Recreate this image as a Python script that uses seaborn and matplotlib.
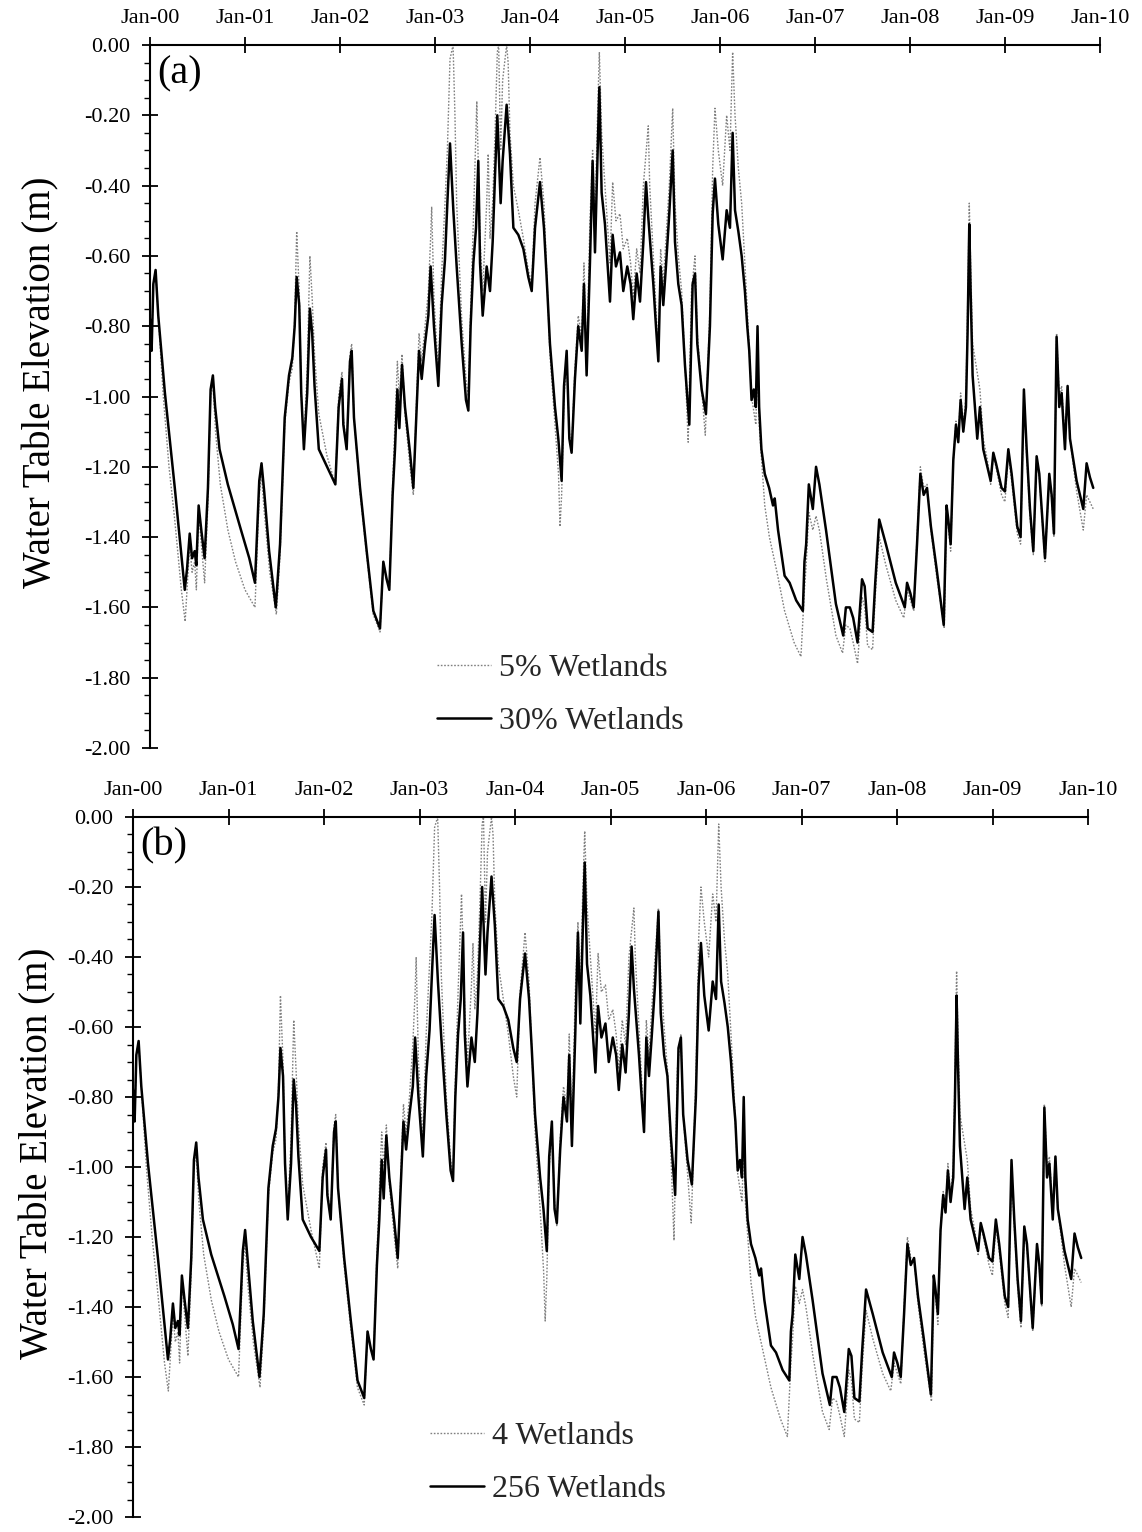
import numpy as np
import pandas as pd
import matplotlib
matplotlib.use("Agg")
import matplotlib.pyplot as plt
import seaborn as sns
from matplotlib.ticker import MultipleLocator

# ---------------- data (decimal years since Jan-2000, water table elevation m) -------------
x_tick_labels = ["Jan-00", "Jan-01", "Jan-02", "Jan-03", "Jan-04", "Jan-05",
                 "Jan-06", "Jan-07", "Jan-08", "Jan-09", "Jan-10"]
y_tick_values = [0.0, -0.2, -0.4, -0.6, -0.8, -1.0, -1.2, -1.4, -1.6, -1.8, -2.0]
y_tick_labels = ["0.00", "-0.20", "-0.40", "-0.60", "-0.80", "-1.00",
                 "-1.20", "-1.40", "-1.60", "-1.80", "-2.00"]

# panel (a) : 30% wetlands (solid)
pts_30pct = [
    (0.000, -0.78), (0.017, -0.87), (0.035, -0.68), (0.059, -0.64), (0.087, -0.77), (0.157, -0.99),
    (0.261, -1.26), (0.366, -1.55), (0.390, -1.49), (0.418, -1.39), (0.443, -1.46), (0.470, -1.44),
    (0.488, -1.48), (0.512, -1.31), (0.540, -1.38), (0.575, -1.46), (0.610, -1.26), (0.638, -0.98),
    (0.662, -0.94), (0.686, -1.03), (0.732, -1.15), (0.819, -1.25), (0.958, -1.38), (1.045, -1.46),
    (1.105, -1.53), (1.150, -1.24), (1.174, -1.19), (1.202, -1.27), (1.254, -1.44), (1.324, -1.60),
    (1.369, -1.42), (1.418, -1.06), (1.463, -0.94), (1.498, -0.89), (1.523, -0.80), (1.544, -0.66),
    (1.571, -0.74), (1.592, -0.99), (1.620, -1.15), (1.655, -0.99), (1.683, -0.75), (1.707, -0.82),
    (1.732, -0.97), (1.777, -1.15), (1.864, -1.20), (1.951, -1.25), (1.986, -1.03), (2.021, -0.95),
    (2.035, -1.08), (2.070, -1.15), (2.105, -0.90), (2.123, -0.87), (2.147, -1.06), (2.211, -1.26),
    (2.281, -1.44), (2.351, -1.61), (2.421, -1.66), (2.456, -1.47), (2.491, -1.52), (2.519, -1.55),
    (2.554, -1.28), (2.579, -1.15), (2.604, -0.98), (2.625, -1.09), (2.653, -0.91), (2.684, -1.03),
    (2.737, -1.16), (2.772, -1.26), (2.807, -1.03), (2.832, -0.87), (2.860, -0.95), (2.895, -0.85),
    (2.930, -0.77), (2.954, -0.63), (2.989, -0.80), (3.035, -0.97), (3.070, -0.74), (3.105, -0.61),
    (3.130, -0.45), (3.158, -0.28), (3.193, -0.47), (3.228, -0.63), (3.281, -0.85), (3.326, -1.01),
    (3.351, -1.04), (3.375, -0.80), (3.404, -0.62), (3.432, -0.52), (3.456, -0.33), (3.474, -0.62),
    (3.502, -0.77), (3.544, -0.63), (3.579, -0.70), (3.607, -0.56), (3.632, -0.37), (3.656, -0.20),
    (3.691, -0.45), (3.712, -0.33), (3.754, -0.17), (3.789, -0.31), (3.825, -0.52), (3.877, -0.54),
    (3.930, -0.58), (3.982, -0.66), (4.018, -0.70), (4.053, -0.52), (4.105, -0.39), (4.147, -0.52),
    (4.175, -0.66), (4.210, -0.85), (4.263, -1.03), (4.298, -1.12), (4.333, -1.24), (4.358, -0.97),
    (4.386, -0.87), (4.414, -1.12), (4.438, -1.16), (4.473, -0.95), (4.508, -0.80), (4.544, -0.87),
    (4.568, -0.68), (4.596, -0.94), (4.631, -0.62), (4.659, -0.33), (4.684, -0.59), (4.709, -0.33),
    (4.730, -0.12), (4.754, -0.42), (4.789, -0.51), (4.842, -0.73), (4.870, -0.54), (4.905, -0.63),
    (4.947, -0.59), (4.982, -0.70), (5.024, -0.63), (5.059, -0.68), (5.087, -0.78), (5.123, -0.65),
    (5.158, -0.73), (5.193, -0.56), (5.221, -0.39), (5.245, -0.49), (5.298, -0.68), (5.326, -0.80),
    (5.351, -0.90), (5.375, -0.63), (5.403, -0.74), (5.431, -0.63), (5.466, -0.48), (5.502, -0.30),
    (5.526, -0.56), (5.561, -0.68), (5.596, -0.74), (5.631, -0.91), (5.677, -1.08), (5.712, -0.68),
    (5.737, -0.65), (5.761, -0.85), (5.807, -0.98), (5.852, -1.05), (5.894, -0.80), (5.923, -0.48),
    (5.947, -0.38), (5.982, -0.51), (6.028, -0.61), (6.070, -0.47), (6.105, -0.52), (6.133, -0.25),
    (6.158, -0.47), (6.193, -0.53), (6.228, -0.60), (6.262, -0.70), (6.287, -0.80), (6.308, -0.87),
    (6.332, -1.01), (6.356, -0.98), (6.377, -1.03), (6.395, -0.80), (6.412, -1.03), (6.436, -1.15),
    (6.471, -1.22), (6.517, -1.26), (6.558, -1.31), (6.576, -1.29), (6.611, -1.38), (6.680, -1.51),
    (6.733, -1.53), (6.802, -1.58), (6.872, -1.61), (6.889, -1.47), (6.907, -1.42), (6.935, -1.25),
    (6.977, -1.32), (7.011, -1.20), (7.046, -1.25), (7.116, -1.38), (7.220, -1.59), (7.297, -1.68),
    (7.325, -1.60), (7.367, -1.60), (7.402, -1.63), (7.448, -1.70), (7.495, -1.52), (7.523, -1.54),
    (7.554, -1.66), (7.606, -1.67), (7.634, -1.53), (7.676, -1.35), (7.746, -1.42), (7.850, -1.53),
    (7.945, -1.60), (7.969, -1.53), (8.004, -1.56), (8.039, -1.60), (8.074, -1.42), (8.109, -1.22),
    (8.144, -1.28), (8.179, -1.26), (8.220, -1.37), (8.280, -1.49), (8.355, -1.65), (8.385, -1.31),
    (8.403, -1.35), (8.428, -1.42), (8.456, -1.18), (8.484, -1.08), (8.508, -1.13), (8.533, -1.01),
    (8.561, -1.10), (8.589, -1.03), (8.606, -0.82), (8.624, -0.51), (8.638, -0.70), (8.659, -0.94),
    (8.684, -1.03), (8.708, -1.12), (8.736, -1.03), (8.771, -1.15), (8.814, -1.20), (8.849, -1.24),
    (8.877, -1.16), (8.905, -1.19), (8.964, -1.26), (8.999, -1.27), (9.035, -1.15), (9.070, -1.22),
    (9.129, -1.37), (9.164, -1.40), (9.199, -0.98), (9.228, -1.15), (9.263, -1.32), (9.298, -1.44),
    (9.333, -1.17), (9.361, -1.22), (9.386, -1.32), (9.421, -1.46), (9.466, -1.22), (9.491, -1.28),
    (9.515, -1.39), (9.543, -0.83), (9.571, -1.03), (9.596, -0.99), (9.631, -1.15), (9.659, -0.97),
    (9.684, -1.12), (9.754, -1.24), (9.824, -1.32), (9.859, -1.19), (9.894, -1.23), (9.929, -1.26),
]

# panel (a) : 5% wetlands (dotted)
pts_5pct = [
    (0.000, -0.78), (0.017, -0.87), (0.035, -0.68), (0.059, -0.64), (0.087, -0.77), (0.140, -1.00),
    (0.200, -1.20), (0.260, -1.35), (0.330, -1.55), (0.370, -1.64), (0.390, -1.55), (0.418, -1.42),
    (0.443, -1.50), (0.470, -1.47), (0.488, -1.55), (0.512, -1.33), (0.540, -1.42), (0.575, -1.53),
    (0.610, -1.30), (0.638, -1.00), (0.662, -0.96), (0.690, -1.10), (0.740, -1.25), (0.820, -1.38),
    (0.900, -1.47), (1.000, -1.55), (1.105, -1.60), (1.150, -1.28), (1.174, -1.22), (1.200, -1.32),
    (1.260, -1.50), (1.330, -1.62), (1.369, -1.45), (1.418, -1.08), (1.463, -0.96), (1.498, -0.92),
    (1.523, -0.78), (1.544, -0.53), (1.571, -0.70), (1.592, -1.00), (1.620, -1.13), (1.655, -0.92),
    (1.683, -0.60), (1.707, -0.72), (1.732, -0.88), (1.777, -1.05), (1.864, -1.17), (1.951, -1.25),
    (1.986, -1.00), (2.021, -0.93), (2.035, -1.06), (2.070, -1.15), (2.105, -0.88), (2.123, -0.85),
    (2.147, -1.06), (2.210, -1.27), (2.280, -1.45), (2.350, -1.62), (2.421, -1.67), (2.456, -1.47),
    (2.491, -1.52), (2.519, -1.55), (2.554, -1.25), (2.604, -0.90), (2.625, -1.00), (2.653, -0.88),
    (2.684, -1.05), (2.737, -1.20), (2.772, -1.28), (2.807, -1.00), (2.832, -0.82), (2.860, -0.90),
    (2.895, -0.80), (2.930, -0.70), (2.954, -0.55), (2.965, -0.46), (2.989, -0.72), (3.035, -0.93),
    (3.070, -0.65), (3.105, -0.45), (3.130, -0.30), (3.158, -0.04), (3.190, 0.00), (3.210, -0.20),
    (3.228, -0.45), (3.281, -0.78), (3.326, -0.95), (3.351, -1.00), (3.375, -0.75), (3.404, -0.50),
    (3.440, -0.16), (3.456, -0.35), (3.474, -0.55), (3.502, -0.70), (3.544, -0.45), (3.560, -0.31),
    (3.579, -0.55), (3.607, -0.45), (3.632, -0.25), (3.656, -0.02), (3.670, 0.00), (3.691, -0.30),
    (3.712, -0.10), (3.754, 0.00), (3.770, -0.05), (3.789, -0.25), (3.825, -0.40), (3.877, -0.47),
    (3.930, -0.55), (3.982, -0.64), (4.018, -0.68), (4.053, -0.45), (4.105, -0.32), (4.147, -0.45),
    (4.175, -0.64), (4.210, -0.88), (4.263, -1.08), (4.300, -1.22), (4.316, -1.37), (4.333, -1.28),
    (4.358, -1.00), (4.386, -0.90), (4.414, -1.10), (4.438, -1.15), (4.473, -0.92), (4.508, -0.77),
    (4.544, -0.83), (4.568, -0.62), (4.596, -0.90), (4.631, -0.50), (4.659, -0.30), (4.684, -0.50),
    (4.709, -0.22), (4.730, -0.02), (4.754, -0.25), (4.789, -0.40), (4.842, -0.62), (4.870, -0.39),
    (4.905, -0.50), (4.947, -0.48), (4.982, -0.58), (5.024, -0.55), (5.059, -0.62), (5.087, -0.72),
    (5.123, -0.58), (5.158, -0.65), (5.193, -0.40), (5.245, -0.23), (5.260, -0.40), (5.298, -0.60),
    (5.326, -0.75), (5.351, -0.88), (5.375, -0.58), (5.403, -0.68), (5.431, -0.55), (5.466, -0.40),
    (5.502, -0.18), (5.526, -0.45), (5.561, -0.60), (5.596, -0.70), (5.631, -0.90), (5.665, -1.13),
    (5.700, -0.70), (5.737, -0.60), (5.761, -0.82), (5.807, -0.98), (5.845, -1.11), (5.894, -0.75),
    (5.923, -0.35), (5.947, -0.18), (5.982, -0.30), (6.028, -0.40), (6.070, -0.20), (6.105, -0.30),
    (6.133, -0.02), (6.158, -0.20), (6.193, -0.35), (6.228, -0.45), (6.262, -0.62), (6.287, -0.75),
    (6.332, -1.00), (6.377, -1.08), (6.395, -0.90), (6.412, -1.08), (6.471, -1.31), (6.520, -1.40),
    (6.600, -1.50), (6.680, -1.61), (6.780, -1.70), (6.852, -1.74), (6.889, -1.55), (6.907, -1.48),
    (6.935, -1.33), (6.977, -1.38), (7.011, -1.34), (7.046, -1.38), (7.120, -1.52), (7.220, -1.68),
    (7.290, -1.73), (7.325, -1.65), (7.367, -1.66), (7.402, -1.70), (7.448, -1.76), (7.495, -1.57),
    (7.523, -1.60), (7.554, -1.71), (7.606, -1.72), (7.634, -1.57), (7.676, -1.40), (7.746, -1.48),
    (7.850, -1.58), (7.935, -1.63), (7.969, -1.55), (8.004, -1.58), (8.040, -1.61), (8.074, -1.40),
    (8.109, -1.20), (8.144, -1.26), (8.179, -1.25), (8.220, -1.38), (8.280, -1.51), (8.361, -1.66),
    (8.385, -1.32), (8.403, -1.37), (8.428, -1.44), (8.456, -1.18), (8.484, -1.07), (8.508, -1.12),
    (8.533, -0.99), (8.561, -1.08), (8.589, -1.00), (8.606, -0.75), (8.624, -0.45), (8.638, -0.62),
    (8.659, -0.85), (8.700, -0.92), (8.736, -0.98), (8.771, -1.12), (8.814, -1.18), (8.849, -1.25),
    (8.877, -1.17), (8.905, -1.20), (8.964, -1.28), (8.999, -1.30), (9.035, -1.17), (9.070, -1.24),
    (9.129, -1.39), (9.164, -1.42), (9.199, -1.00), (9.228, -1.17), (9.263, -1.34), (9.298, -1.45),
    (9.333, -1.18), (9.361, -1.23), (9.386, -1.33), (9.421, -1.47), (9.466, -1.23), (9.491, -1.29),
    (9.515, -1.40), (9.543, -0.82), (9.571, -1.00), (9.596, -0.97), (9.631, -1.13), (9.659, -0.97),
    (9.684, -1.12), (9.754, -1.27), (9.824, -1.38), (9.859, -1.28), (9.894, -1.30), (9.929, -1.32),
]

# panel (b) : 256 wetlands (solid)
pts_256wet = [
    (0.000, -0.78), (0.017, -0.87), (0.035, -0.68), (0.059, -0.64), (0.087, -0.77), (0.157, -0.99),
    (0.261, -1.26), (0.366, -1.55), (0.390, -1.49), (0.418, -1.39), (0.443, -1.46), (0.470, -1.44),
    (0.488, -1.48), (0.512, -1.31), (0.540, -1.38), (0.575, -1.46), (0.610, -1.26), (0.638, -0.98),
    (0.662, -0.93), (0.686, -1.03), (0.732, -1.15), (0.819, -1.25), (0.958, -1.37), (1.045, -1.45),
    (1.105, -1.52), (1.150, -1.24), (1.174, -1.18), (1.202, -1.27), (1.254, -1.44), (1.324, -1.60),
    (1.369, -1.42), (1.418, -1.06), (1.463, -0.94), (1.498, -0.89), (1.523, -0.80), (1.544, -0.66),
    (1.571, -0.74), (1.592, -0.99), (1.620, -1.15), (1.655, -0.99), (1.683, -0.75), (1.707, -0.82),
    (1.732, -0.97), (1.777, -1.15), (1.864, -1.20), (1.951, -1.24), (1.986, -1.03), (2.021, -0.95),
    (2.035, -1.08), (2.070, -1.15), (2.105, -0.90), (2.123, -0.87), (2.147, -1.06), (2.211, -1.26),
    (2.281, -1.44), (2.351, -1.61), (2.421, -1.66), (2.456, -1.47), (2.491, -1.52), (2.519, -1.55),
    (2.554, -1.28), (2.579, -1.15), (2.604, -0.98), (2.625, -1.09), (2.653, -0.91), (2.684, -1.03),
    (2.737, -1.16), (2.772, -1.26), (2.807, -1.03), (2.832, -0.87), (2.860, -0.95), (2.895, -0.85),
    (2.930, -0.77), (2.954, -0.63), (2.989, -0.80), (3.035, -0.97), (3.070, -0.74), (3.105, -0.61),
    (3.130, -0.45), (3.158, -0.28), (3.193, -0.47), (3.228, -0.63), (3.281, -0.85), (3.326, -1.01),
    (3.351, -1.04), (3.375, -0.80), (3.404, -0.62), (3.432, -0.52), (3.456, -0.33), (3.474, -0.62),
    (3.502, -0.77), (3.544, -0.63), (3.579, -0.70), (3.607, -0.56), (3.632, -0.37), (3.656, -0.20),
    (3.691, -0.45), (3.712, -0.33), (3.754, -0.17), (3.789, -0.31), (3.825, -0.52), (3.877, -0.54),
    (3.930, -0.58), (3.982, -0.66), (4.018, -0.70), (4.053, -0.52), (4.105, -0.39), (4.147, -0.52),
    (4.175, -0.66), (4.210, -0.85), (4.263, -1.03), (4.298, -1.12), (4.333, -1.24), (4.358, -0.97),
    (4.386, -0.87), (4.414, -1.12), (4.438, -1.16), (4.473, -0.95), (4.508, -0.80), (4.544, -0.87),
    (4.568, -0.68), (4.596, -0.94), (4.631, -0.62), (4.659, -0.33), (4.684, -0.59), (4.709, -0.33),
    (4.730, -0.13), (4.754, -0.42), (4.789, -0.51), (4.842, -0.73), (4.870, -0.54), (4.905, -0.63),
    (4.947, -0.59), (4.982, -0.70), (5.024, -0.63), (5.059, -0.68), (5.087, -0.78), (5.123, -0.65),
    (5.158, -0.73), (5.193, -0.56), (5.221, -0.37), (5.245, -0.49), (5.298, -0.68), (5.326, -0.80),
    (5.351, -0.90), (5.375, -0.63), (5.403, -0.74), (5.431, -0.63), (5.466, -0.48), (5.502, -0.27),
    (5.526, -0.56), (5.561, -0.68), (5.596, -0.74), (5.631, -0.91), (5.677, -1.08), (5.712, -0.66),
    (5.737, -0.63), (5.761, -0.85), (5.807, -0.98), (5.852, -1.05), (5.894, -0.80), (5.923, -0.48),
    (5.947, -0.36), (5.982, -0.51), (6.028, -0.61), (6.070, -0.47), (6.105, -0.52), (6.133, -0.25),
    (6.158, -0.47), (6.193, -0.53), (6.228, -0.60), (6.262, -0.70), (6.287, -0.80), (6.308, -0.87),
    (6.332, -1.01), (6.356, -0.98), (6.377, -1.03), (6.395, -0.80), (6.412, -1.03), (6.436, -1.15),
    (6.471, -1.22), (6.517, -1.26), (6.558, -1.31), (6.576, -1.29), (6.611, -1.38), (6.680, -1.51),
    (6.733, -1.53), (6.802, -1.58), (6.872, -1.61), (6.889, -1.47), (6.907, -1.42), (6.935, -1.25),
    (6.977, -1.32), (7.011, -1.20), (7.046, -1.25), (7.116, -1.38), (7.220, -1.59), (7.297, -1.68),
    (7.325, -1.60), (7.367, -1.60), (7.402, -1.63), (7.448, -1.70), (7.495, -1.52), (7.523, -1.54),
    (7.554, -1.66), (7.606, -1.67), (7.634, -1.53), (7.676, -1.35), (7.746, -1.42), (7.850, -1.53),
    (7.945, -1.60), (7.969, -1.53), (8.004, -1.56), (8.039, -1.60), (8.074, -1.42), (8.109, -1.22),
    (8.144, -1.28), (8.179, -1.26), (8.220, -1.37), (8.280, -1.49), (8.355, -1.65), (8.385, -1.31),
    (8.403, -1.35), (8.428, -1.42), (8.456, -1.18), (8.484, -1.08), (8.508, -1.13), (8.533, -1.01),
    (8.561, -1.10), (8.589, -1.03), (8.606, -0.82), (8.624, -0.51), (8.638, -0.70), (8.659, -0.94),
    (8.684, -1.03), (8.708, -1.12), (8.736, -1.03), (8.771, -1.15), (8.814, -1.20), (8.849, -1.24),
    (8.877, -1.16), (8.905, -1.19), (8.964, -1.26), (8.999, -1.27), (9.035, -1.15), (9.070, -1.22),
    (9.129, -1.37), (9.164, -1.40), (9.199, -0.98), (9.228, -1.15), (9.263, -1.32), (9.298, -1.44),
    (9.333, -1.17), (9.361, -1.22), (9.386, -1.32), (9.421, -1.46), (9.466, -1.22), (9.491, -1.28),
    (9.515, -1.39), (9.543, -0.83), (9.571, -1.03), (9.596, -0.99), (9.631, -1.15), (9.659, -0.97),
    (9.684, -1.12), (9.754, -1.24), (9.824, -1.32), (9.859, -1.19), (9.894, -1.23), (9.929, -1.26),
]

# panel (b) : 4 wetlands (dotted)
pts_4wet = [
    (0.000, -0.78), (0.017, -0.87), (0.035, -0.68), (0.059, -0.64), (0.087, -0.77), (0.140, -1.00),
    (0.200, -1.20), (0.260, -1.36), (0.330, -1.56), (0.370, -1.64), (0.390, -1.55), (0.418, -1.42),
    (0.443, -1.50), (0.470, -1.47), (0.488, -1.56), (0.512, -1.33), (0.540, -1.42), (0.575, -1.54),
    (0.610, -1.30), (0.638, -1.00), (0.662, -0.96), (0.690, -1.10), (0.740, -1.25), (0.820, -1.38),
    (0.900, -1.47), (1.000, -1.55), (1.105, -1.60), (1.150, -1.28), (1.174, -1.22), (1.200, -1.33),
    (1.260, -1.50), (1.330, -1.63), (1.369, -1.45), (1.418, -1.08), (1.463, -0.96), (1.498, -0.92),
    (1.523, -0.78), (1.544, -0.51), (1.571, -0.70), (1.592, -1.00), (1.620, -1.13), (1.655, -0.92),
    (1.683, -0.58), (1.707, -0.72), (1.732, -0.88), (1.777, -1.05), (1.864, -1.18), (1.951, -1.29),
    (1.986, -1.00), (2.021, -0.93), (2.035, -1.06), (2.070, -1.15), (2.105, -0.88), (2.123, -0.85),
    (2.147, -1.06), (2.210, -1.28), (2.280, -1.46), (2.350, -1.63), (2.421, -1.68), (2.456, -1.47),
    (2.491, -1.52), (2.519, -1.55), (2.554, -1.25), (2.604, -0.90), (2.625, -1.00), (2.653, -0.88),
    (2.684, -1.05), (2.737, -1.20), (2.772, -1.29), (2.807, -1.00), (2.832, -0.82), (2.860, -0.90),
    (2.895, -0.80), (2.930, -0.65), (2.954, -0.50), (2.965, -0.40), (2.989, -0.70), (3.035, -0.92),
    (3.070, -0.62), (3.105, -0.42), (3.130, -0.28), (3.158, -0.03), (3.190, 0.00), (3.210, -0.20),
    (3.228, -0.45), (3.281, -0.80), (3.326, -0.98), (3.351, -1.03), (3.375, -0.75), (3.404, -0.50),
    (3.440, -0.22), (3.456, -0.38), (3.474, -0.55), (3.502, -0.70), (3.544, -0.48), (3.560, -0.36),
    (3.579, -0.55), (3.607, -0.45), (3.632, -0.25), (3.656, -0.02), (3.670, 0.00), (3.691, -0.30),
    (3.712, -0.10), (3.754, 0.00), (3.770, -0.05), (3.789, -0.25), (3.825, -0.42), (3.877, -0.52),
    (3.930, -0.62), (3.982, -0.74), (4.018, -0.80), (4.053, -0.50), (4.105, -0.33), (4.147, -0.47),
    (4.175, -0.66), (4.210, -0.90), (4.263, -1.12), (4.300, -1.30), (4.316, -1.44), (4.333, -1.32),
    (4.358, -1.00), (4.386, -0.90), (4.414, -1.10), (4.438, -1.17), (4.473, -0.92), (4.508, -0.77),
    (4.544, -0.83), (4.568, -0.62), (4.596, -0.90), (4.631, -0.50), (4.659, -0.30), (4.684, -0.50),
    (4.709, -0.22), (4.730, -0.04), (4.754, -0.25), (4.789, -0.40), (4.842, -0.62), (4.870, -0.39),
    (4.905, -0.50), (4.947, -0.48), (4.982, -0.58), (5.024, -0.55), (5.059, -0.62), (5.087, -0.72),
    (5.123, -0.58), (5.158, -0.65), (5.193, -0.40), (5.245, -0.26), (5.260, -0.40), (5.298, -0.60),
    (5.326, -0.75), (5.351, -0.90), (5.375, -0.58), (5.403, -0.68), (5.431, -0.55), (5.466, -0.40),
    (5.502, -0.26), (5.526, -0.45), (5.561, -0.60), (5.596, -0.72), (5.631, -0.95), (5.665, -1.21),
    (5.700, -0.72), (5.737, -0.62), (5.761, -0.85), (5.807, -1.02), (5.845, -1.16), (5.894, -0.75),
    (5.923, -0.35), (5.947, -0.20), (5.982, -0.30), (6.028, -0.40), (6.070, -0.22), (6.105, -0.30),
    (6.133, -0.02), (6.158, -0.20), (6.193, -0.35), (6.228, -0.45), (6.262, -0.62), (6.287, -0.75),
    (6.332, -1.02), (6.377, -1.10), (6.395, -0.92), (6.412, -1.10), (6.471, -1.33), (6.520, -1.43),
    (6.600, -1.53), (6.680, -1.63), (6.780, -1.72), (6.852, -1.77), (6.889, -1.56), (6.907, -1.49),
    (6.935, -1.34), (6.977, -1.39), (7.011, -1.35), (7.046, -1.40), (7.120, -1.54), (7.220, -1.70),
    (7.290, -1.75), (7.325, -1.66), (7.367, -1.67), (7.402, -1.71), (7.448, -1.77), (7.495, -1.58),
    (7.523, -1.61), (7.554, -1.72), (7.606, -1.73), (7.634, -1.58), (7.676, -1.41), (7.746, -1.49),
    (7.850, -1.59), (7.935, -1.64), (7.969, -1.56), (8.004, -1.59), (8.040, -1.62), (8.074, -1.40),
    (8.109, -1.20), (8.144, -1.26), (8.179, -1.26), (8.220, -1.39), (8.280, -1.52), (8.361, -1.67),
    (8.385, -1.32), (8.403, -1.37), (8.428, -1.45), (8.456, -1.18), (8.484, -1.07), (8.508, -1.12),
    (8.533, -0.99), (8.561, -1.08), (8.589, -1.00), (8.606, -0.75), (8.624, -0.44), (8.638, -0.62),
    (8.659, -0.85), (8.700, -0.92), (8.736, -0.98), (8.771, -1.12), (8.814, -1.18), (8.849, -1.25),
    (8.877, -1.17), (8.905, -1.20), (8.964, -1.28), (8.999, -1.31), (9.035, -1.17), (9.070, -1.24),
    (9.129, -1.39), (9.164, -1.43), (9.199, -1.00), (9.228, -1.17), (9.263, -1.34), (9.298, -1.46),
    (9.333, -1.18), (9.361, -1.23), (9.386, -1.33), (9.421, -1.47), (9.466, -1.23), (9.491, -1.29),
    (9.515, -1.40), (9.543, -0.82), (9.571, -1.00), (9.596, -0.97), (9.631, -1.13), (9.659, -0.97),
    (9.684, -1.12), (9.754, -1.28), (9.824, -1.40), (9.859, -1.29), (9.894, -1.31), (9.929, -1.33),
]

legend_a = ["5% Wetlands", "30% Wetlands"]
legend_b = ["4 Wetlands", "256 Wetlands"]
panel_labels = ["(a)", "(b)"]
y_label = "Water Table Elevation (m)"

# ---------------- styling ----------------
sns.set_style("ticks")
plt.rcParams["font.family"] = ["Liberation Serif", "DejaVu Serif"]
plt.rcParams["axes.unicode_minus"] = False

W, H = 1142, 1532
fig = plt.figure(figsize=(W / 100, H / 100), dpi=100)


def px_axes(left, top, right, bottom):
    return fig.add_axes([left / W, 1 - bottom / H, (right - left) / W, (bottom - top) / H])


def draw_panel(ax, pts_dot, pts_solid, labels, panel, leg_xy, ylab_x):
    d_dot = pd.DataFrame(pts_dot, columns=["year", "wt"])
    d_sol = pd.DataFrame(pts_solid, columns=["year", "wt"])
    sns.lineplot(data=d_dot, x="year", y="wt", ax=ax, color="#808080", lw=1.0,
                 linestyle=(0, (1.2, 1.2)), estimator=None, sort=False, label=labels[0])
    sns.lineplot(data=d_sol, x="year", y="wt", ax=ax, color="black", lw=1.8,
                 estimator=None, sort=False, label=labels[1])

    ax.set_xlim(0, 10)
    ax.set_ylim(-2.0, 0.0)
    ax.set_xticks(range(len(x_tick_labels)))
    ax.set_xticklabels(x_tick_labels)
    ax.set_yticks(y_tick_values)
    ax.set_yticklabels(y_tick_labels)
    ax.yaxis.set_minor_locator(MultipleLocator(0.05))
    ax.xaxis.tick_top()
    ax.xaxis.set_label_position("top")
    ax.set_xlabel("")

    for s in ["right", "bottom"]:
        ax.spines[s].set_visible(False)
    for s in ["top", "left"]:
        ax.spines[s].set_linewidth(1.5)
        ax.spines[s].set_color("black")

    ax.tick_params(axis="x", which="major", direction="inout", length=11, width=1.3,
                   pad=7, labelsize=16, colors="black")
    ax.tick_params(axis="y", which="major", direction="inout", length=12, width=1.3,
                   pad=8, labelsize=16, colors="black")
    ax.tick_params(axis="y", which="minor", direction="out", length=4, width=1.0, colors="black")
    ax.tick_params(axis="x", which="minor", length=0)

    ax.set_ylabel(y_label, fontsize=28, color="black")
    ax.yaxis.set_label_coords(ylab_x, 0.52)

    ax.text(0.008, 0.985, panel, transform=ax.transAxes, ha="left", va="top",
            fontsize=29, color="black")

    ax.legend(loc="center left", bbox_to_anchor=(leg_xy[0] / W, 1 - leg_xy[1] / H),
              bbox_transform=fig.transFigure, frameon=False, fontsize=23,
              handlelength=1.7, handletextpad=0.25, labelspacing=0.75,
              borderpad=0, borderaxespad=0)
    ax.set_facecolor("white")


ax_a = px_axes(150, 45, 1100, 748)
draw_panel(ax_a, pts_5pct, pts_30pct, legend_a, panel_labels[0], (437, 695), -0.095)

ax_b = px_axes(133, 817, 1088, 1517)
draw_panel(ax_b, pts_4wet, pts_256wet, legend_b, panel_labels[1], (430, 1463), -0.08)

fig.savefig("out.png", dpi=100, facecolor="white")
